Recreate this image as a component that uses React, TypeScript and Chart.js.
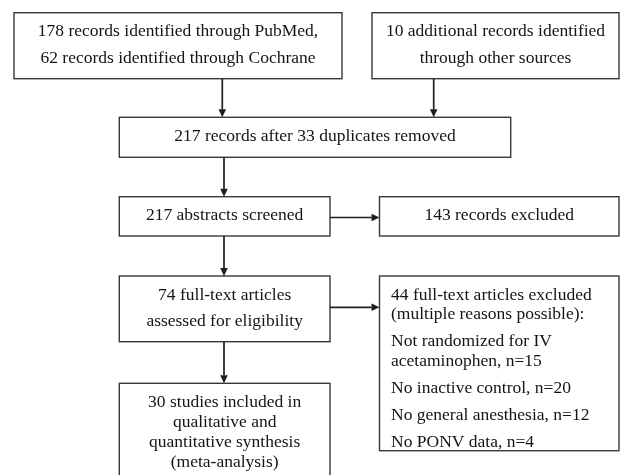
import React, { useEffect, useRef } from "react";
import { Chart, registerables } from "chart.js";

Chart.register(...registerables);

// ---- Flow-diagram data (data units = page pixels, y downward) ----
const boxTexts: string[][][] = [
  [["178 records identified through PubMed,"], ["62 records identified through Cochrane"]],
  [["10 additional records identified"], ["through other sources"]],
  [["217 records after 33 duplicates removed"]],
  [["217 abstracts screened"]],
  [["143 records excluded"]],
  [["74 full-text articles"], ["assessed for eligibility"]],
  [
    ["44 full-text articles excluded", "(multiple reasons possible):"],
    ["Not randomized for IV", "acetaminophen, n=15"],
    ["No inactive control, n=20"],
    ["No general anesthesia, n=12"],
    ["No PONV data, n=4"],
  ],
  [["30 studies included in", "qualitative and", "quantitative synthesis", "(meta-analysis)"]],
];
const boxLeft = [14, 372, 119.3, 119.3, 379.5, 119.3, 379.5, 119.3];
const boxRight = [342, 619, 510.7, 330, 619, 330, 619, 330];
const boxTop = [12.7, 12.7, 117.3, 196.7, 196.7, 276, 276, 383.3];
const boxBottom = [78.7, 78.7, 157.3, 236, 236, 341.7, 450.7, 495];

// arrows: start and end points
const arrowX0 = [222.3, 433.7, 224, 224, 224, 330, 330];
const arrowY0 = [78.7, 78.7, 157.3, 236, 341.7, 217.5, 307.3];
const arrowX1 = [222.3, 433.7, 224, 224, 224, 379.5, 379.5];
const arrowY1 = [117.3, 117.3, 196.7, 276, 383.3, 217.5, 307.3];

// ---- styles ----
const FONT = "17.5px 'Liberation Serif', 'Times New Roman', serif";
const TEXT_COLOR = "#141414";
const BOX_COLOR = "#383838";
const ARROW_COLOR = "#1e1e1e";
const boxAlign = ["center", "center", "center", "center", "center", "center", "left", "center"];
const boxAnchor = ["middle", "middle", "middle", "middle", "middle", "middle", "top", "top"];
const lineStep = [26.7, 26.7, 0, 0, 0, 25.7, 19.5, 20.2];
const groupStep = [26.7, 26.7, 0, 0, 0, 25.7, 27, 0];

const flowPlugin = {
  id: "flow",
  afterDraw(chart: any) {
    const ctx = chart.ctx as CanvasRenderingContext2D;
    const xs = chart.scales.x;
    const ys = chart.scales.y;
    const px = (v: number) => xs.getPixelForValue(v);
    const py = (v: number) => ys.getPixelForValue(v);
    ctx.save();
    // boxes
    for (let i = 0; i < boxTexts.length; i++) {
      const l = px(boxLeft[i]);
      const r = px(boxRight[i]);
      const t = py(boxTop[i]);
      const b = py(boxBottom[i]);
      ctx.fillStyle = "#ffffff";
      ctx.fillRect(l, t, r - l, b - t);
      ctx.strokeStyle = BOX_COLOR;
      ctx.lineWidth = 1.4;
      ctx.strokeRect(l, t, r - l, b - t);

      // text layout
      const groups = boxTexts[i];
      const ys2: number[] = [];
      const lines: string[] = [];
      let y = 0;
      groups.forEach((g, gi) => {
        if (gi > 0) y += groupStep[i];
        g.forEach((line, li) => {
          if (li > 0) y += lineStep[i];
          ys2.push(y);
          lines.push(line);
        });
      });
      const span = y;
      let start: number;
      if (boxAnchor[i] === "top") start = boxTop[i] + 19.5;
      else start = (boxTop[i] + boxBottom[i]) / 2 - span / 2;
      ctx.font = FONT;
      ctx.fillStyle = TEXT_COLOR;
      ctx.textBaseline = "alphabetic";
      const align = boxAlign[i];
      ctx.textAlign = align === "left" ? "left" : "center";
      const tx = align === "left" ? px(boxLeft[i] + 11.5) : px((boxLeft[i] + boxRight[i]) / 2);
      lines.forEach((line, k) => {
        ctx.fillText(line, tx, py(start + ys2[k]) + 4);
      });
    }
    // arrows
    ctx.strokeStyle = ARROW_COLOR;
    ctx.fillStyle = ARROW_COLOR;
    ctx.lineWidth = 1.7;
    for (let i = 0; i < arrowX0.length; i++) {
      const x0 = px(arrowX0[i]);
      const y0 = py(arrowY0[i]);
      const x1 = px(arrowX1[i]);
      const y1 = py(arrowY1[i]);
      const ang = Math.atan2(y1 - y0, x1 - x0);
      const hl = 8;
      const hw = 3.8;
      const bx = x1 - hl * Math.cos(ang);
      const by = y1 - hl * Math.sin(ang);
      ctx.beginPath();
      ctx.moveTo(x0, y0);
      ctx.lineTo(bx, by);
      ctx.stroke();
      ctx.beginPath();
      ctx.moveTo(x1, y1);
      ctx.lineTo(bx - hw * Math.sin(ang), by + hw * Math.cos(ang));
      ctx.lineTo(bx + hw * Math.sin(ang), by - hw * Math.cos(ang));
      ctx.closePath();
      ctx.fill();
    }
    ctx.restore();
  },
};

export default function App() {
  const ref = useRef<HTMLCanvasElement | null>(null);
  useEffect(() => {
    if (!ref.current) return;
    const chart = new Chart(ref.current, {
      type: "scatter",
      data: { datasets: [{ data: [], pointRadius: 0 }] },
      options: {
        animation: false,
        responsive: false,
        devicePixelRatio: 1,
        layout: { padding: 0 },
        plugins: { legend: { display: false }, tooltip: { enabled: false } },
        scales: {
          x: { type: "linear", min: 0, max: 620, display: false },
          y: { type: "linear", min: 0, max: 475, reverse: true, display: false },
        },
      },
      plugins: [flowPlugin],
    });
    return () => chart.destroy();
  }, []);
  return (
    <div style={{ position: "fixed", left: 0, top: 0, width: 620, height: 475, background: "#fff" }}>
      <canvas ref={ref} width={620} height={475} />
    </div>
  );
}
